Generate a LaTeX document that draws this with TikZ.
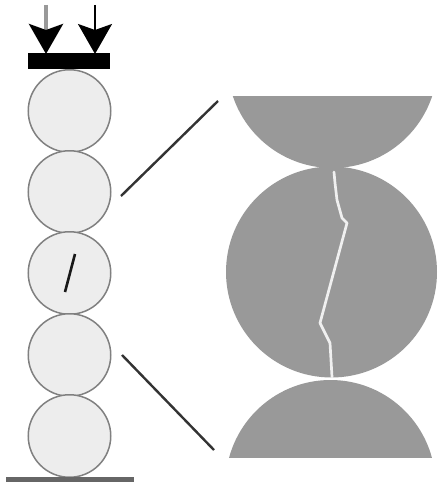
\documentclass[tikz,border=0pt]{standalone}
\usetikzlibrary{arrows.meta}
\definecolor{bigfill}{gray}{0.6}
\tikzset{
  ball/.style={circle,draw=black!50,fill=black!7,line width=1.5pt,minimum size=82.5pt,inner sep=0pt,outer sep=0pt},
  zoomline/.style={draw=black!80,line width=2.4pt},
  load/.style={-{Stealth[length=30pt,width=34pt,inset=6pt,fill=black,color=black]}},
  crack/.style={draw=black!6,line width=2.7pt,line join=round,line cap=round}
}
\begin{document}
\begin{tikzpicture}[x=1pt,y=-1pt]
\useasboundingbox[fill=white] (0,0) rectangle (437,487);
% magnified section
\fill[bigfill] (331.5,272) circle[radius=105.5];
\begin{scope}
  \clip (225,96) rectangle (437,200);
  \fill[bigfill] (332.5,63) circle[radius=105];
\end{scope}
\begin{scope}
  \clip (225,360) rectangle (437,457);
  \fill[bigfill] (330.5,485) circle[radius=105];
\end{scope}
\draw[crack] (334,172) -- (335,183) -- (337,200) -- (342,218) -- (347,223) -- (320,323) -- (330,343) -- (332,377);
% column of grains
\node[ball] (b1) at (69.5,111) {};
\node[ball] (b2) at (69.5,192) {};
\node[ball] (b3) at (69.5,273) {};
\node[ball] (b4) at (69.5,355) {};
\node[ball] (b5) at (69.5,436) {};
\draw[black!90,line width=2.6pt] (75,254) -- (65,292);
% plate and ground
\fill[black] (28,53) rectangle (110,69);
\fill[black!60] (6,476.5) rectangle (134,482);
% loads
\coordinate (l1s) at (46,5);
\coordinate (l1e) at (46,54);
\coordinate (l2s) at (95,5);
\coordinate (l2e) at (95,54);
\draw[load,draw=black!40,line width=4pt] (l1s) -- (l1e);
\draw[load,draw=black,line width=2pt] (l2s) -- (l2e);
% zoom lines
\coordinate (z1a) at (218,101);
\coordinate (z1b) at (121,196);
\coordinate (z2a) at (122,355);
\coordinate (z2b) at (214,450);
\draw[zoomline] (z1a) -- (z1b);
\draw[zoomline] (z2a) -- (z2b);
\end{tikzpicture}
\end{document}
